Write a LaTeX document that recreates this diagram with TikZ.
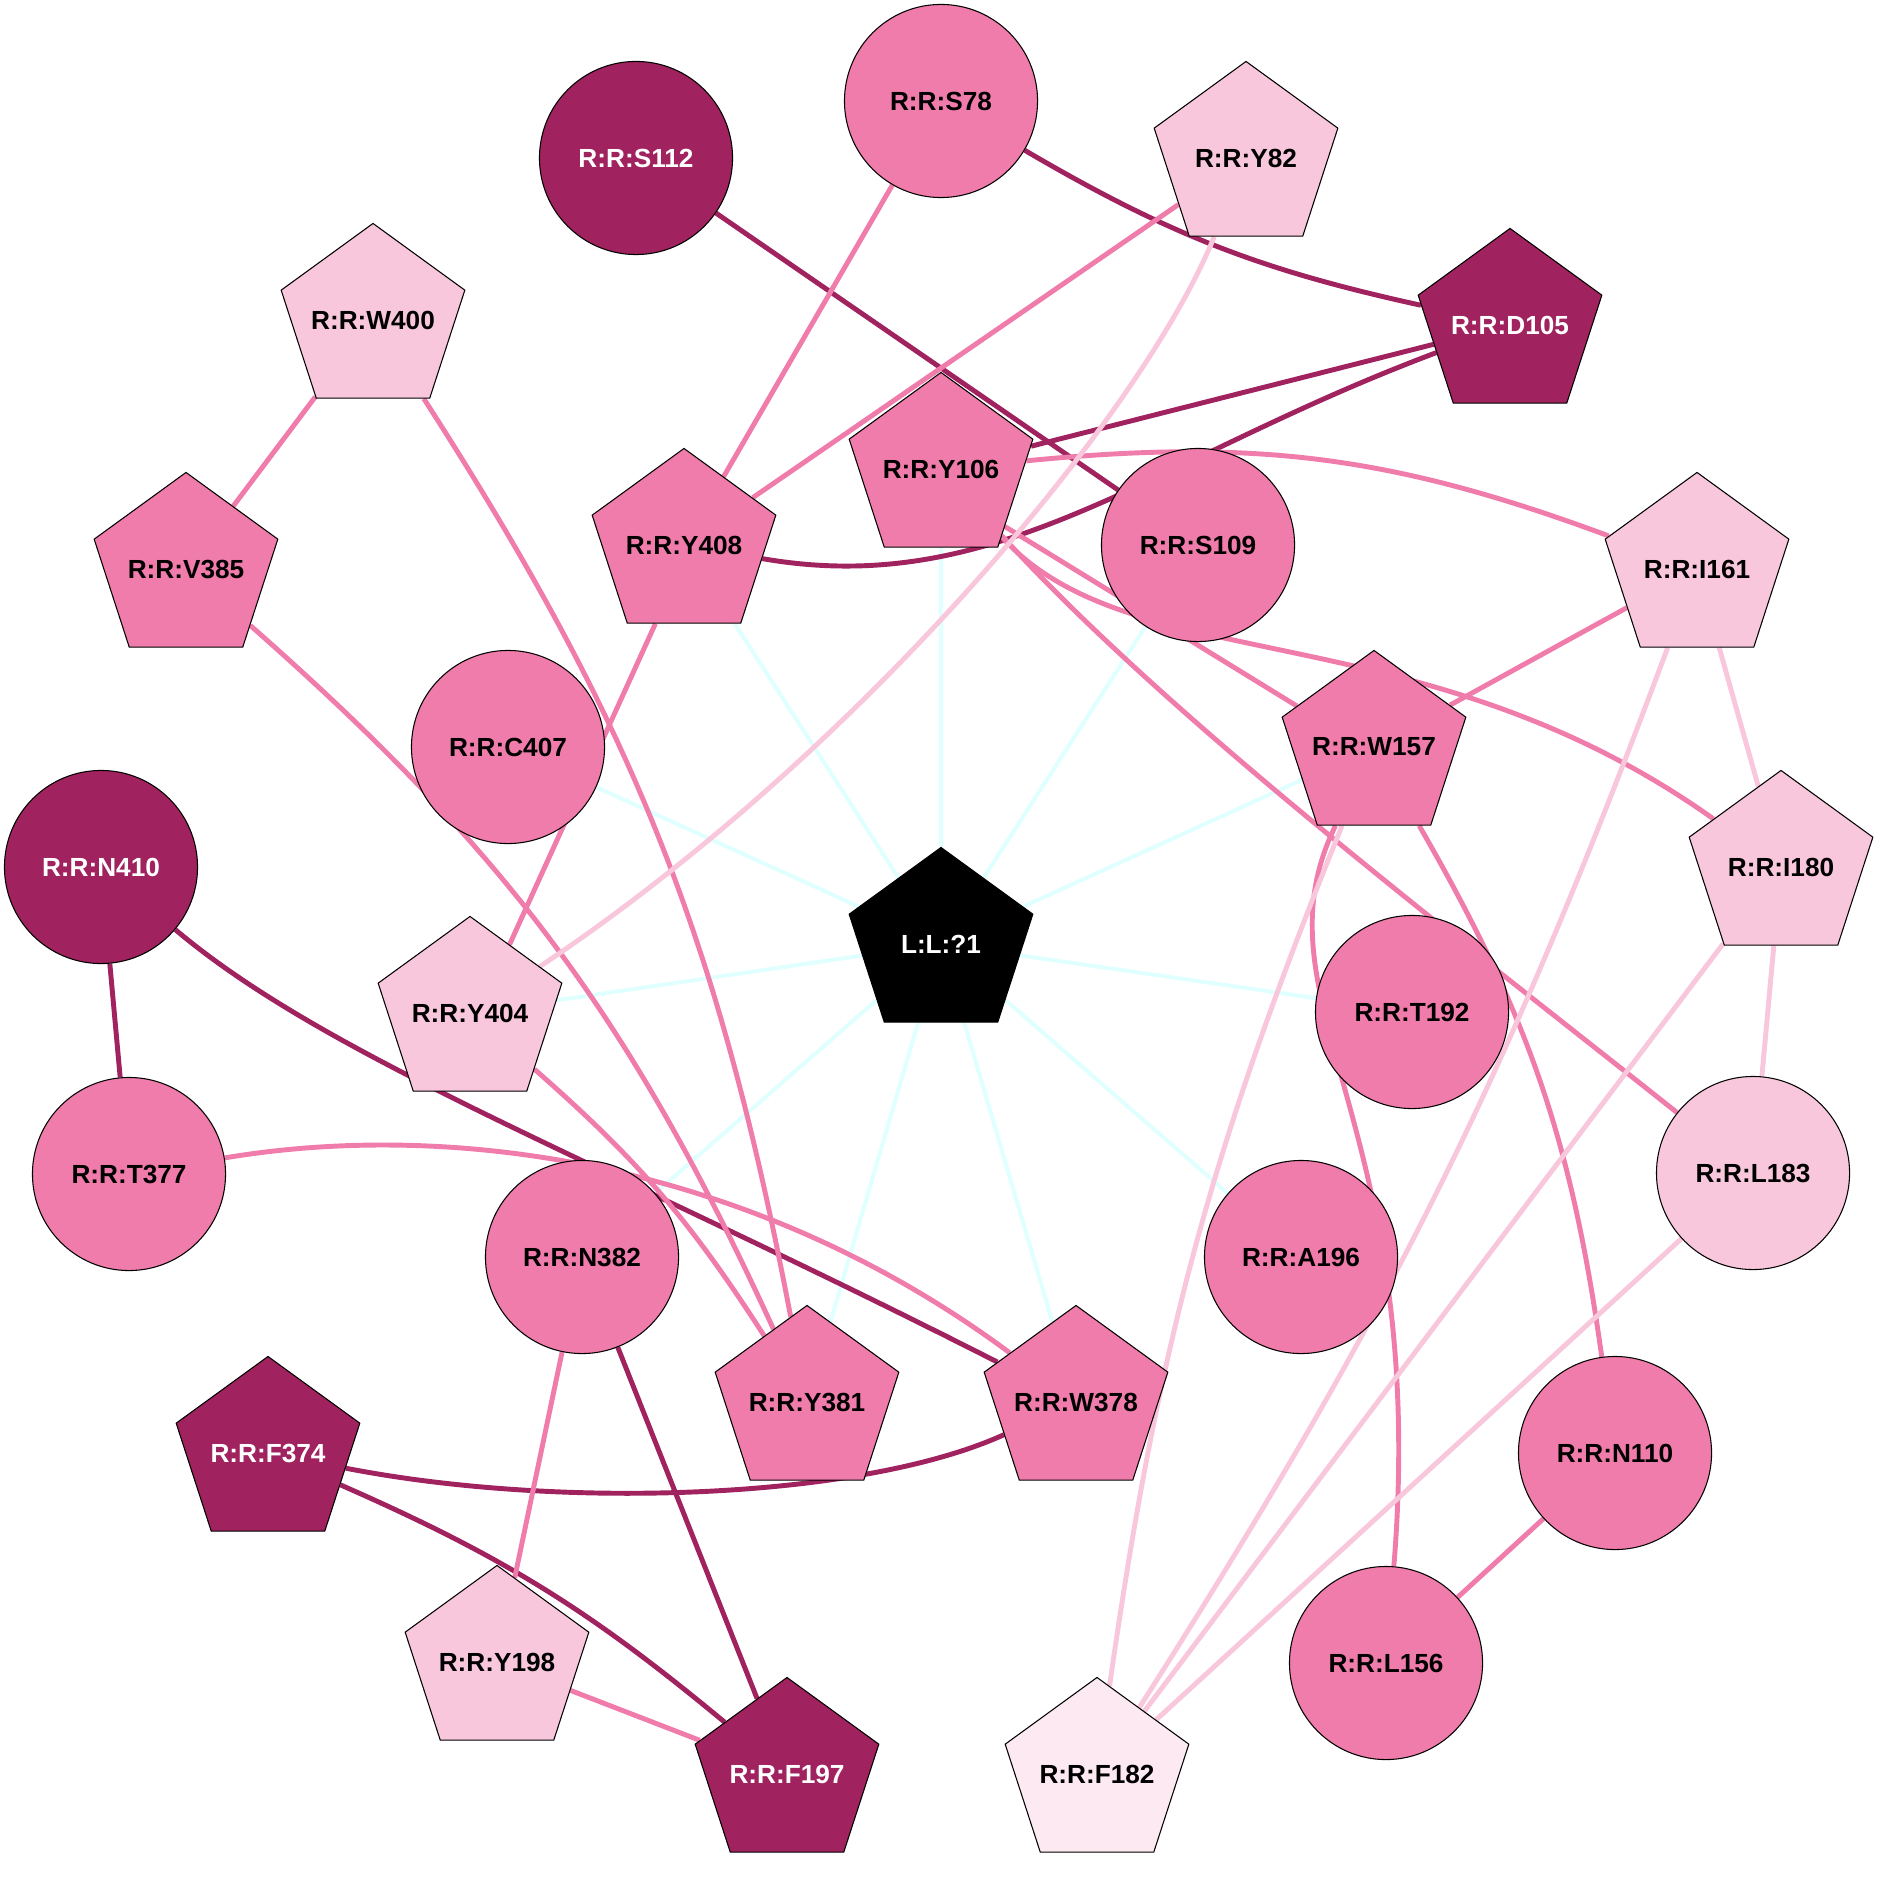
\documentclass[tikz,border=0pt]{standalone}
\usepackage{fontspec}
\setmainfont{Liberation Sans}
\usepackage{tikz}
\usetikzlibrary{shapes.geometric}
\usetikzlibrary{backgrounds}

\definecolor{hubdark}{RGB}{160,34,94}
\definecolor{hubmid}{RGB}{240,124,171}
\definecolor{hublight}{RGB}{248,199,220}
\definecolor{hubpale}{RGB}{252,233,241}
\definecolor{ligcyan}{RGB}{224,255,255}

\begin{document}
\begin{tikzpicture}[
        x=0.01cm, y=0.01cm,
        font=\fontsize{7.45}{9}\selectfont\bfseries,
        res/.style={draw=black, line width=0.3pt, inner sep=0pt, minimum size=1.93cm},
        ring/.style={res, circle},
        penta/.style={res, regular polygon, regular polygon sides=5, inner xsep=-0.1cm},
        dk/.style={fill=hubdark, text=white},
        md/.style={fill=hubmid},
        lt/.style={fill=hublight},
        pl/.style={fill=hubpale},
        link/.style={line width=1.4pt},
        dkl/.style={link, draw=hubdark},
        mdl/.style={link, draw=hubmid},
        ltl/.style={link, draw=hublight},
        lig/.style={line width=1.15pt, draw=ligcyan}
    ]
        \useasboundingbox (0,0) rectangle (1883,-1876);

        % --- Ligand ---
        \node[penta, fill=black, text=white] (L) at (941,-944) {L:L:?1};

        % --- Residues (circles) ---
        \node[ring, md] (S78)  at (941,-101)  {R:R:S78};
        \node[ring, dk] (S112) at (636,-158)  {R:R:S112};
        \node[ring, md] (S109) at (1198,-545) {R:R:S109};
        \node[ring, md] (C407) at (508,-747)  {R:R:C407};
        \node[ring, dk] (N410) at (101,-867)  {R:R:N410};
        \node[ring, md] (T377) at (129,-1174) {R:R:T377};
        \node[ring, md] (N382) at (582,-1257) {R:R:N382};
        \node[ring, md] (T192) at (1412,-1012) {R:R:T192};
        \node[ring, lt] (L183) at (1753,-1173) {R:R:L183};
        \node[ring, md] (A196) at (1301,-1257) {R:R:A196};
        \node[ring, md] (N110) at (1615,-1453) {R:R:N110};
        \node[ring, md] (L156) at (1386,-1663) {R:R:L156};

        % --- Residues (pentagons) ---
        \node[penta, lt] (Y82)  at (1246,-158) {R:R:Y82};
        \node[penta, dk] (D105) at (1510,-325) {R:R:D105};
        \node[penta, lt] (W400) at (373,-320)  {R:R:W400};
        \node[penta, md] (Y106) at (941,-469)  {R:R:Y106};
        \node[penta, md] (Y408) at (684,-545)  {R:R:Y408};
        \node[penta, md] (V385) at (186,-569)  {R:R:V385};
        \node[penta, lt] (I161) at (1697,-569) {R:R:I161};
        \node[penta, md] (W157) at (1374,-747) {R:R:W157};
        \node[penta, lt] (I180) at (1781,-867) {R:R:I180};
        \node[penta, lt] (Y404) at (470,-1013) {R:R:Y404};
        \node[penta, md] (Y381) at (807,-1402) {R:R:Y381};
        \node[penta, md] (W378) at (1076,-1402) {R:R:W378};
        \node[penta, dk] (F374) at (268,-1453) {R:R:F374};
        \node[penta, lt] (Y198) at (497,-1662) {R:R:Y198};
        \node[penta, dk] (F197) at (787,-1774) {R:R:F197};
        \node[penta, pl] (F182) at (1097,-1774) {R:R:F182};

        \begin{pgfonlayer}{background}
        % --- Contacts with the ligand ---
        \draw[lig] (L) -- (Y106);
        \draw[lig] (L) -- (Y408);
        \draw[lig] (L) -- (S109);
        \draw[lig] (L) -- (C407);
        \draw[lig] (L) -- (W157);
        \draw[lig] (L) -- (Y404);
        \draw[lig] (L) -- (T192);
        \draw[lig] (L) -- (N382);
        \draw[lig] (L) -- (A196);
        \draw[lig] (L) -- (Y381);
        \draw[lig] (L) -- (W378);

        % --- Strong contacts ---
        \draw[dkl] (S78) to[bend right=9] (D105);
        \draw[dkl] (S112) -- (S109);
        \draw[dkl] (D105) -- (Y106);
        \draw[dkl] (D105) .. controls (1150,-460) and (1000,-600) .. (Y408);
        \draw[dkl] (N410) -- (T377);
        \draw[dkl] (N410) .. controls (330,-1060) and (600,-1160) .. (W378);
        \draw[dkl] (F374) .. controls (560,-1510) and (860,-1500) .. (W378);
        \draw[dkl] (F374) to[bend left=8] (F197);
        \draw[dkl] (N382) -- (F197);

        % --- Medium contacts ---
        \draw[mdl] (S78) -- (Y408);
        \draw[mdl] (Y82) -- (Y408);
        \draw[mdl] (Y106) to[bend left=13] (I161);
        \draw[mdl] (Y106.-42) -- (W157.152);
        \draw[mdl] (Y106) .. controls (1130,-680) and (1420,-610) .. (I180);
        \draw[mdl] (Y106) .. controls (1170,-720) and (1460,-940) .. (L183);
        \draw[mdl] (W400) -- (V385);
        \draw[mdl] (W400) to[bend left=11] (Y381);
        \draw[mdl] (V385) to[bend left=12] (Y381);
        \draw[mdl] (Y408.-110) -- (Y404.60);
        \draw[mdl] (I161) -- (W157);
        \draw[mdl] (W157) .. controls (1250,-1000) and (1430,-1120) .. (L156);
        \draw[mdl] (W157) to[bend left=11] (N110);
        \draw[mdl] (T377) .. controls (450,-1120) and (750,-1160) .. (W378);
        \draw[mdl] (Y404) to[bend left=8] (Y381);
        \draw[mdl] (N382) -- (Y198);
        \draw[mdl] (Y198) -- (F197);
        \draw[mdl] (N110) -- (L156);

        % --- Weak contacts ---
        \draw[ltl] (Y82) .. controls (1140,-420) and (850,-760) .. (Y404);
        \draw[ltl] (I161) -- (I180);
        \draw[ltl] (I161) to[bend left=6] (F182);
        \draw[ltl] (I180) -- (L183);
        \draw[ltl] (I180) -- (F182);
        \draw[ltl] (L183) -- (F182);
        \draw[ltl] (W157) to[bend right=7] (F182);
        \end{pgfonlayer}

    \end{tikzpicture}
\end{document}
